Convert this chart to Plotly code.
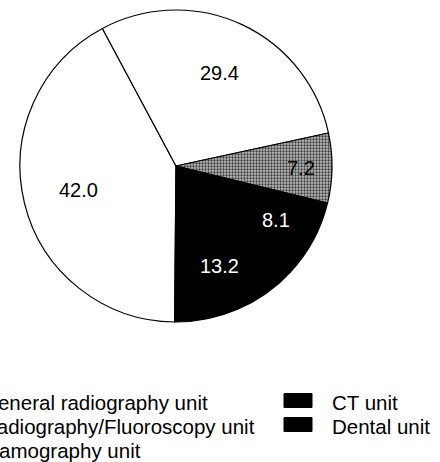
import math
import plotly.graph_objects as go

# Share of X-ray units by type (%)
labels = ["General radiography unit", "Radiography/Fluoroscopy unit",
          "Mamography unit", "CT unit", "Dental unit"]
values = [42.0, 29.4, 7.2, 8.1, 13.2]

fill_colors = ["white", "white", "#b4b4b4", "black", "black"]
text_colors = ["black", "black", "black", "white", "white"]
# radial position of each value label, as a fraction of the pie radius
label_radius = [0.645, 0.66, 0.80, 0.725, 0.70]

W, H = 440, 462
FONT = "Liberation Sans, Arial, Helvetica, sans-serif"
ROTATION = 180.5

# pie placement in pixels
CX, CY, R = 176, 166, 156

fig = go.Figure(go.Pie(
    labels=labels,
    values=values,
    sort=False,
    direction="clockwise",
    rotation=ROTATION,
    marker=dict(
        colors=fill_colors,
        line=dict(color="black", width=1.2),
        pattern=dict(
            shape=["", "", ".", "", ""],
            fgcolor="#3a3a3a",
            bgcolor="#bdbdbd",
            size=3,
            solidity=0.45,
        ),
    ),
    textinfo="none",
    showlegend=False,
    hoverinfo="label+value",
    domain=dict(x=[(CX - R) / W, (CX + R) / W],
                y=[1 - (CY + R) / H, 1 - (CY - R) / H]),
))

annotations, shapes = [], []

# value labels at each slice's mid angle
total = sum(values)
cum = 0.0
for v, rf, tc in zip(values, label_radius, text_colors):
    mid = ROTATION + (cum + v / 2) / total * 360
    cum += v
    th = math.radians(mid)
    px = CX + rf * R * math.sin(th)
    py = CY - rf * R * math.cos(th)
    annotations.append(dict(
        text=f"{v:.1f}", xref="paper", yref="paper",
        x=px / W, y=1 - py / H, xanchor="center", yanchor="middle",
        showarrow=False, font=dict(family=FONT, size=20, color=tc),
    ))

# two-column legend beneath the pie (column-major order)
rows_per_col = 3
col_text_x = [-20, 330]
swatch_w, swatch_h, swatch_gap = 28, 14, 18
row_y = [402, 426, 450]

for i, (lab, col) in enumerate(zip(labels, fill_colors)):
    c, r = divmod(i, rows_per_col)
    tx = col_text_x[c]
    ty = row_y[r]
    sx1 = tx - swatch_gap
    sx0 = sx1 - swatch_w
    sy = ty - 1.5
    shapes.append(dict(
        type="rect", xref="paper", yref="paper",
        x0=sx0 / W, x1=sx1 / W,
        y0=1 - (sy + swatch_h / 2) / H, y1=1 - (sy - swatch_h / 2) / H,
        fillcolor=col, line=dict(color="black", width=1),
    ))
    annotations.append(dict(
        text=lab, xref="paper", yref="paper",
        x=tx / W, y=1 - ty / H, xanchor="left", yanchor="middle",
        showarrow=False, font=dict(family=FONT, size=20.5, color="black"),
    ))

fig.update_layout(
    width=W, height=H,
    margin=dict(l=0, r=0, t=0, b=0),
    paper_bgcolor="white",
    plot_bgcolor="white",
    shapes=shapes,
    annotations=annotations,
)

fig.write_html("out.html")
